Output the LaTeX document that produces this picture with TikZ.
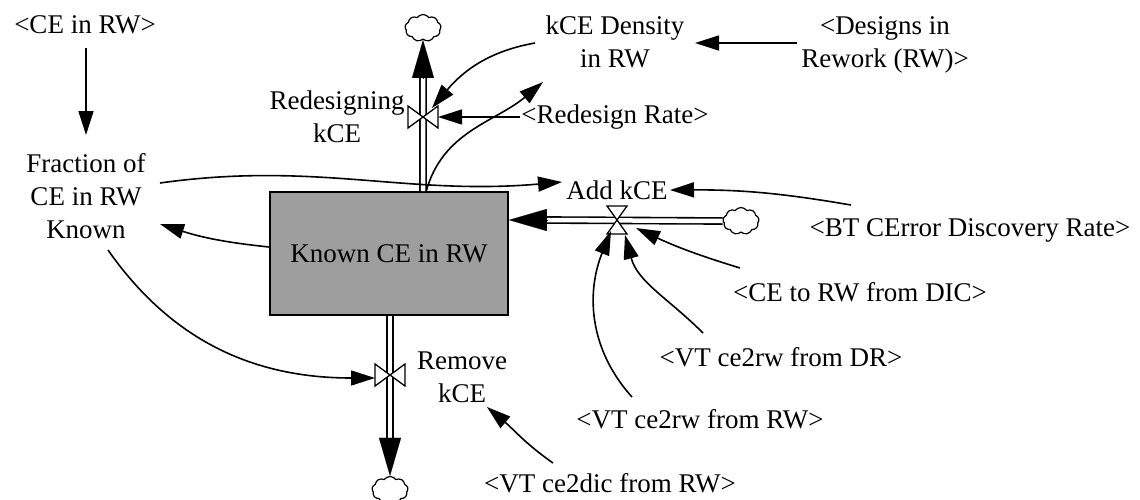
\documentclass[tikz,border=0pt]{standalone}
\usepackage{fontspec}
\setmainfont{Liberation Serif}
\usetikzlibrary{arrows.meta,shapes.symbols}
\definecolor{stockgray}{RGB}{158,158,158}
\begin{document}
\begin{tikzpicture}[x=1pt,y=-1pt,
  font=\fontsize{27}{33}\selectfont,
  lbl/.style={align=center,inner sep=1pt},
  info/.style={line width=1.6pt,-{Triangle[length=24pt,width=15pt]}},
  pipe/.style={double=white,double distance=4.5pt,line width=1.6pt},
  flowtip/.style={line width=0.1pt,-{Triangle[length=38pt,width=22pt]}},
  cloudy/.style={cloud,cloud puffs=9,cloud puff arc=110,draw,line width=1.2pt,fill=white,
    minimum width=36pt,minimum height=27pt,inner sep=0pt,aspect=1.3},
  stockbox/.style={draw,line width=1.6pt,fill=stockgray,minimum width=238pt,minimum height=123pt},
  hvalve/.pic={\draw[fill=white,line width=1.3pt] (-15,-11)--(-15,11)--(0,0)--cycle (15,-11)--(15,11)--(0,0)--cycle;},
  vvalve/.pic={\draw[fill=white,line width=1.3pt] (-10,-14)--(10,-14)--(0,0)--cycle (-10,14)--(10,14)--(0,0)--cycle;}
]
\useasboundingbox (0,0) rectangle (1140,499);

% stock
\node[stockbox] (stock) at (389,253.5) {Known CE in RW};

% labels
\node[lbl] (cin)  at (85,25)   {<CE in RW>};
\node[lbl] (frac) at (86,196)  {Fraction of\\CE in RW\\Known};
\node[lbl] (kd)   at (615,42)  {kCE Density\\in RW};
\node[lbl] (dr)   at (885,45)  {<Designs in\\Rework (RW)>};
\node[lbl] (rr)   at (615,117) {<Redesign Rate>};
\node[lbl] (rl)   at (337,117) {Redesigning\\kCE};
\node[lbl] (add)  at (617,190) {Add kCE};
\node[lbl] (bt)   at (970,230) {<BT CError Discovery Rate>};
\node[lbl] (dic)  at (860,292) {<CE to RW from DIC>};
\node[lbl] (vdr)  at (781,357) {<VT ce2rw from DR>};
\node[lbl] (vrw)  at (700,419) {<VT ce2rw from RW>};
\node[lbl] (vdic) at (610,483) {<VT ce2dic from RW>};
\node[lbl] (rem)  at (462,377) {Remove\\kCE};

% valves and clouds
\node[coordinate] (v1) at (423,117) {};
\node[coordinate] (v2) at (617,220) {};
\node[coordinate] (v3) at (390,375) {};
\node[cloudy] (c1) at (423,28) {};
\node[cloudy] (c2) at (741,221) {};
\node[cloudy] (c3) at (390,490) {};

% pipes
\draw[pipe] (stock.north -| v1) -- ([yshift=-36pt]c1.south);
\draw[flowtip] ([yshift=-38pt]c1.south) -- (c1.south);
\draw[pipe] (c2.west) -- ([xshift=36pt]stock.east |- v2);
\draw[flowtip] ([xshift=38pt]stock.east |- v2) -- (stock.east |- v2);
\draw[pipe] (stock.south -| v3) -- ([yshift=36pt]c3.north);
\draw[flowtip] ([yshift=38pt]c3.north) -- (c3.north);

\pic at (v1) {hvalve};
\pic at (v2) {vvalve};
\pic at (v3) {hvalve};

% information links
\draw[info] ([shift={(1,23)}]cin.center) -- ([shift={(0,-61)}]frac.center);
\draw[info] ([shift={(0,-6.5)}]stock.west) to[bend left=6] ([shift={(74,28)}]frac.center);
\draw[info] ([shift={(74,-13)}]frac.center) to[out=8,in=185] ([shift={(-55,-8)}]add.center);
\draw[info] ([shift={(22,54)}]frac.center) to[out=-55,in=180] ([shift={(-15,3)}]v3);
\draw[info] ([shift={(37,-61.5)}]stock.center) to[out=75,in=220] ([shift={(-72,40)}]kd.center);
\draw[info] ([shift={(-80,1)}]kd.center) to[out=190,in=50] ([shift={(9,-9)}]v1);
\draw[info] ([shift={(-95,0)}]rr.center) -- ([shift={(15,0)}]v1);
\draw[info] ([shift={(-88,-2)}]dr.center) -- ([shift={(80,1)}]kd.center);
\draw[info] ([shift={(-119,-25)}]bt.center) to[bend right=5] ([shift={(53,0)}]add.center);
\draw[info] ([shift={(-120,-24)}]dic.center) to[bend left=4] ([shift={(19,8)}]v2);
\draw[info] ([shift={(-78,-24)}]vdr.center) to[out=135,in=-75] ([shift={(8,15)}]v2);
\draw[info] ([shift={(-68,-22)}]vrw.center) to[out=132,in=-112] ([shift={(-6,11)}]v2);
\draw[info] ([shift={(-57,-20)}]vdic.center) to[out=145,in=-40] ([shift={(25,30)}]rem.center);
\end{tikzpicture}
\end{document}
